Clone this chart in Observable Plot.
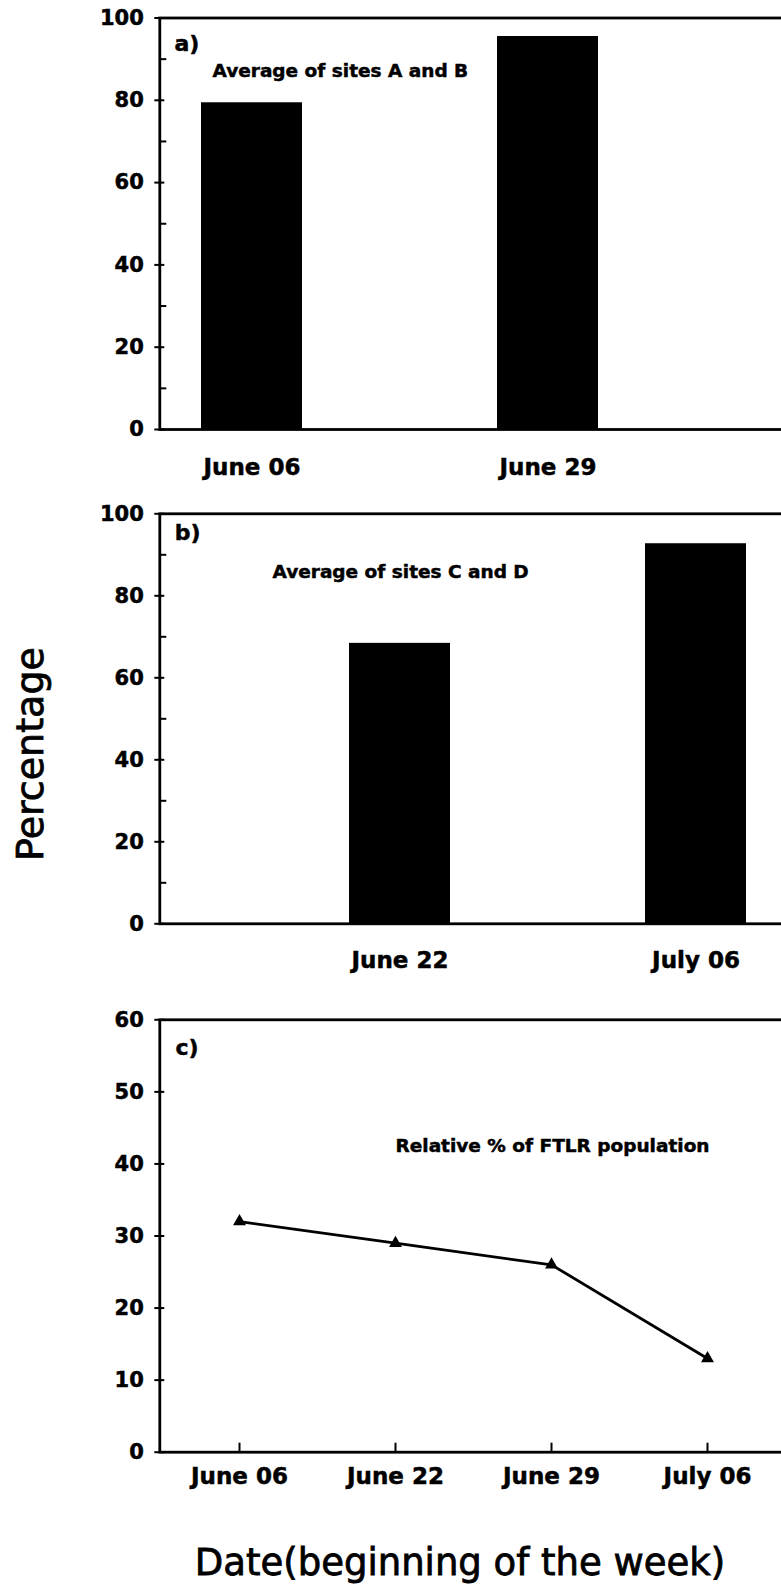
<!DOCTYPE html>
<html>
<head>
<meta charset="utf-8">
<script src="https://cdn.jsdelivr.net/npm/d3@7"></script>
<script src="https://cdn.jsdelivr.net/npm/@observablehq/plot@0.6"></script>
<style>
  html, body { margin: 0; padding: 0; background: #fff; overflow: hidden; }
  #wrap { position: relative; width: 781px; height: 1590px; overflow: hidden; background: #fff; }
  #wrap svg { position: absolute; left: 0; max-width: none; z-index: 1; }
  #wrap svg text { stroke: #000; stroke-width: 0.5px; }
  .ytitle { position: absolute; z-index: 2; left: 30px; top: 754px; transform: translate(-50%, -50%) rotate(-90deg);
            font-family: "DejaVu Sans", sans-serif; font-size: 38px; line-height: 38px; white-space: nowrap; color: #000;
            -webkit-text-stroke: 0.8px #000; }
  .xtitle { position: absolute; z-index: 2; left: 460px; top: 1544px; transform: translateX(-50%);
            font-family: "DejaVu Sans", sans-serif; font-size: 37px; line-height: 37px; white-space: nowrap; color: #000;
            -webkit-text-stroke: 0.8px #000; }
</style>
</head>
<body>
<div id="wrap">
  <div class="ytitle">Percentage</div>
  <div class="xtitle">Date(beginning of the week)</div>
</div>
<script>
// ---- data ----
const weeks = ["June 06", "June 22", "June 29", "July 06"];
const aWeeks = ["June 06", "June 29"];
const aValues = [79.4, 95.5];
const bWeeks = ["June 22", "July 06"];
const bValues = [68.4, 92.7];
const cValues = [32, 29, 26, 13];
const barTicks = [0, 20, 40, 60, 80, 100];
const barMinorTicks = [10, 30, 50, 70, 90];
const lineTicks = [0, 10, 20, 30, 40, 50, 60];
const panelTags = ["a)", "b)", "c)"];
const notes = ["Average of sites A and B", "Average of sites C and D", "Relative % of FTLR population"];

// ---- layout ----
const W = 800;          // wider than the page: the right border is cut off like in the source
const ML = 159.3;
const baseStyle = {
  fontFamily: "'DejaVu Sans', sans-serif",
  fontWeight: "bold",
  fontSize: "21px",
  color: "black",
  background: "transparent",
  maxWidth: "none",
  overflow: "visible"
};

function barPanel(cats, vals, tag, note, o) {
  const data = cats.map((w, i) => ({week: w, value: vals[i]}));
  const svg = Plot.plot({
    width: W, height: o.height,
    marginLeft: ML, marginRight: 0, marginTop: o.mt, marginBottom: o.mb,
    style: baseStyle,
    x: {domain: weeks, range: [176.4, 771.2], paddingInner: 0.317, paddingOuter: 0.1587, align: 0.5, label: null},
    y: {domain: [0, 100], label: null},
    marks: [
      Plot.barY(data, {x: "week", y: "value", fill: "black"}),
      Plot.frame({stroke: "black", strokeWidth: 2.8}),
      Plot.axisY(barTicks, {tickSize: 10, dx: 5, fill: "none", strokeWidth: 2}),
      Plot.axisY(barMinorTicks, {tickSize: 7, dx: 7, fill: "none", strokeWidth: 2}),
      Plot.axisY(barTicks, {tickSize: 0, tickPadding: 16, fontSize: 21}),
      Plot.axisX(cats, {tickSize: 0, tickPadding: o.pad, fontSize: 23}),
      Plot.text([tag], {frameAnchor: "top-left", dx: o.tagDx, dy: o.tagDy, textAnchor: "start", lineAnchor: "middle", fontSize: 22}),
      Plot.text([note], {frameAnchor: "top-left", dx: o.noteDx, dy: o.noteDy, textAnchor: "start", lineAnchor: "middle", fontSize: 18.5})
    ]
  });
  svg.style.top = o.top + "px";
  return svg;
}

function linePanel(cats, vals, tag, note, o) {
  const data = cats.map((w, i) => ({week: w, value: vals[i]}));
  const svg = Plot.plot({
    width: W, height: o.height,
    marginLeft: ML, marginRight: 0, marginTop: o.mt, marginBottom: o.mb,
    style: baseStyle,
    x: {type: "point", domain: weeks, range: [238, 707], padding: 0, label: null},
    y: {domain: [0, 60], label: null},
    marks: [
      Plot.frame({stroke: "black", strokeWidth: 2.8}),
      Plot.axisY(lineTicks, {tickSize: 10, dx: 5, fill: "none", strokeWidth: 2}),
      Plot.axisY(lineTicks, {tickSize: 0, tickPadding: 16, fontSize: 21}),
      Plot.axisX(cats, {tickSize: 9, dy: -9, fill: "none", strokeWidth: 2}),
      Plot.axisX(cats, {tickSize: 0, tickPadding: o.pad, fontSize: 23}),
      Plot.line(data, {x: "week", y: "value", stroke: "black", strokeWidth: 2.8}),
      Plot.dot(data, {x: "week", y: "value", symbol: "triangle", r: 4.8, fill: "black", stroke: "none"}),
      Plot.text([tag], {frameAnchor: "top-left", dx: o.tagDx, dy: o.tagDy, textAnchor: "start", lineAnchor: "middle", fontSize: 22}),
      Plot.text([note], {frameAnchor: "top-left", dx: o.noteDx, dy: o.noteDy, textAnchor: "start", lineAnchor: "middle", fontSize: 18.5})
    ]
  });
  svg.style.top = o.top + "px";
  return svg;
}

const wrap = document.getElementById("wrap");
wrap.appendChild(barPanel(aWeeks, aValues, panelTags[0], notes[0],
  {top: 0, height: 490, mt: 17.5, mb: 61, pad: 29, tagDx: 14.7, tagDy: 25.5, noteDx: 52.7, noteDy: 53}));
wrap.appendChild(barPanel(bWeeks, bValues, panelTags[1], notes[1],
  {top: 490, height: 490, mt: 23.3, mb: 56.7, pad: 28, tagDx: 15, tagDy: 19, noteDx: 112.7, noteDy: 58.2}));
wrap.appendChild(linePanel(weeks, cValues, panelTags[2], notes[2],
  {top: 980, height: 540, mt: 39.3, mb: 68.3, pad: 15, tagDx: 15.7, tagDy: 28.2, noteDx: 235.7, noteDy: 126.7}));
</script>
</body>
</html>
